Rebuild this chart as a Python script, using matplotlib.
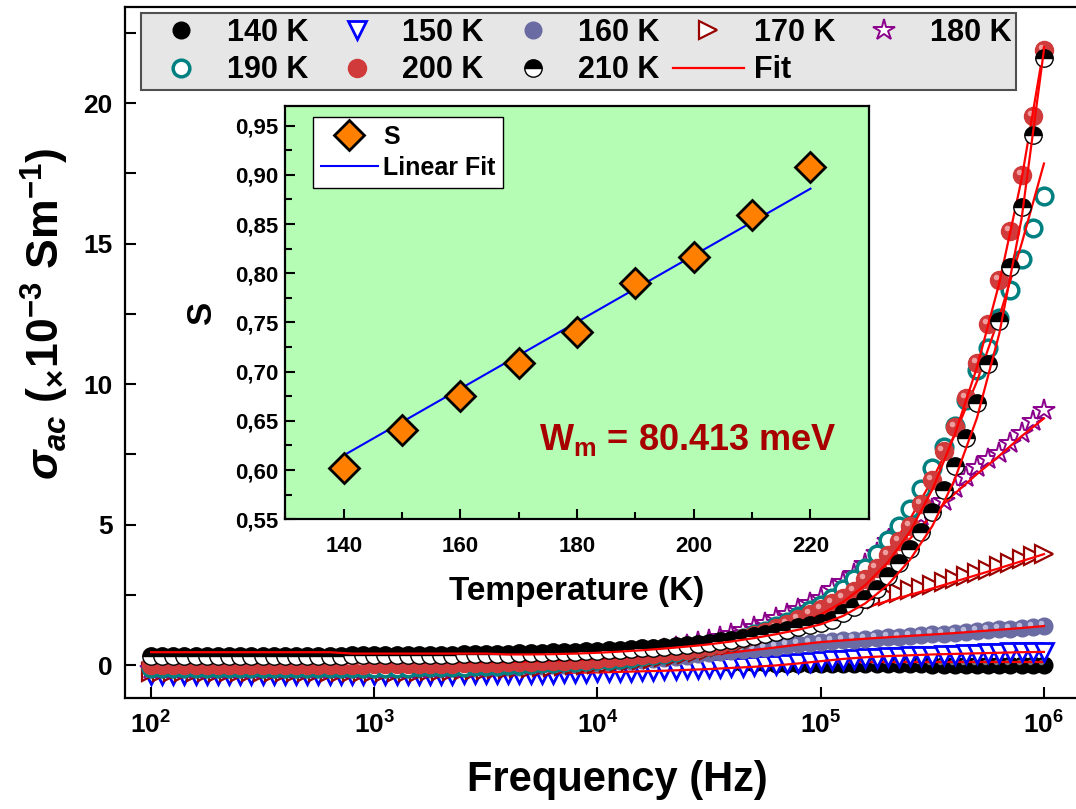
import matplotlib
matplotlib.use("Agg")
import matplotlib.pyplot as plt
import matplotlib.transforms as mtransforms
from matplotlib.ticker import MultipleLocator, NullLocator, LogLocator, FuncFormatter
import numpy as np

plt.rcParams['font.family'] = ['Liberation Sans', 'DejaVu Sans']
plt.rcParams['mathtext.fontset'] = 'custom'
plt.rcParams['mathtext.rm'] = 'Liberation Sans:bold'
plt.rcParams['mathtext.bf'] = 'Liberation Sans:bold'
plt.rcParams['mathtext.it'] = 'Liberation Sans:italic:bold'

# measurement grid, log10(f / Hz)
log_freq = [2.00, 2.05, 2.10, 2.15, 2.20, 2.25, 2.30, 2.35, 2.40, 2.45,
            2.50, 2.55, 2.60, 2.65, 2.70, 2.75, 2.80, 2.85, 2.90, 2.95,
            3.00, 3.05, 3.10, 3.15, 3.20, 3.25, 3.30, 3.35, 3.40, 3.45,
            3.50, 3.55, 3.60, 3.65, 3.70, 3.75, 3.80, 3.85, 3.90, 3.95,
            4.00, 4.05, 4.10, 4.15, 4.20, 4.25, 4.30, 4.35, 4.40, 4.45,
            4.50, 4.55, 4.60, 4.65, 4.70, 4.75, 4.80, 4.85, 4.90, 4.95,
            5.00, 5.05, 5.10, 5.15, 5.20, 5.25, 5.30, 5.35, 5.40, 5.45,
            5.50, 5.55, 5.60, 5.65, 5.70, 5.75, 5.80, 5.85, 5.90, 5.95,
            6.00]
# fit curves are sampled every 0.1 decade
log_freq_fit = [2.0, 2.1, 2.2, 2.3, 2.4, 2.5, 2.6, 2.7, 2.8, 2.9,
                3.0, 3.1, 3.2, 3.3, 3.4, 3.5, 3.6, 3.7, 3.8, 3.9,
                4.0, 4.1, 4.2, 4.3, 4.4, 4.5, 4.6, 4.7, 4.8, 4.9,
                5.0, 5.1, 5.2, 5.3, 5.4, 5.5, 5.6, 5.7, 5.8, 5.9, 6.0]

# sigma_ac (x1e-3 S/m)
s140 = [0.10, 0.10, 0.10, 0.10, 0.10, 0.10, 0.10, 0.10, 0.10, 0.10,
        0.10, 0.10, 0.10, 0.10, 0.10, 0.10, 0.10, 0.10, 0.10, 0.10,
        0.10, 0.10, 0.10, 0.10, 0.10, 0.10, 0.10, 0.10, 0.10, 0.10,
        0.10, 0.10, 0.10, 0.10, 0.10, 0.10, 0.10, 0.10, 0.10, 0.10,
        0.10, 0.10, 0.10, 0.09, 0.09, 0.09, 0.09, 0.08, 0.08, 0.08,
        0.07, 0.07, 0.07, 0.06, 0.06, 0.06, 0.05, 0.05, 0.05, 0.05,
        0.04, 0.04, 0.04, 0.04, 0.03, 0.03, 0.03, 0.03, 0.03, 0.03,
        0.02, 0.02, 0.02, 0.02, 0.02, 0.02, 0.02, 0.02, 0.02, 0.02,
        0.02]
s150 = [-0.35, -0.35, -0.35, -0.35, -0.35, -0.35, -0.35, -0.35, -0.35, -0.35,
        -0.35, -0.35, -0.35, -0.35, -0.35, -0.35, -0.35, -0.35, -0.35, -0.35,
        -0.35, -0.35, -0.35, -0.35, -0.34, -0.34, -0.34, -0.34, -0.33, -0.33,
        -0.33, -0.32, -0.32, -0.31, -0.31, -0.30, -0.30, -0.29, -0.28, -0.27,
        -0.26, -0.25, -0.24, -0.23, -0.22, -0.20, -0.19, -0.17, -0.15, -0.13,
        -0.11, -0.09, -0.07, -0.05, -0.03, -0.01, 0.02, 0.05, 0.08, 0.11,
        0.14, 0.17, 0.20, 0.22, 0.24, 0.26, 0.28, 0.30, 0.31, 0.33,
        0.34, 0.36, 0.37, 0.39, 0.40, 0.42, 0.43, 0.45, 0.46, 0.47,
        0.48]
s160 = [-0.15, -0.15, -0.15, -0.15, -0.15, -0.15, -0.15, -0.15, -0.15, -0.15,
        -0.15, -0.15, -0.15, -0.15, -0.15, -0.15, -0.15, -0.15, -0.15, -0.15,
        -0.15, -0.15, -0.15, -0.14, -0.14, -0.13, -0.13, -0.12, -0.11, -0.10,
        -0.09, -0.08, -0.07, -0.06, -0.04, -0.02, 0.00, 0.02, 0.04, 0.06,
        0.08, 0.10, 0.13, 0.16, 0.19, 0.22, 0.26, 0.30, 0.34, 0.38,
        0.42, 0.46, 0.50, 0.54, 0.58, 0.62, 0.66, 0.70, 0.74, 0.78,
        0.82, 0.85, 0.88, 0.91, 0.93, 0.96, 0.99, 1.01, 1.04, 1.06,
        1.09, 1.12, 1.15, 1.18, 1.21, 1.24, 1.27, 1.30, 1.33, 1.36,
        1.39]
s170 = [-0.25, -0.25, -0.25, -0.25, -0.25, -0.25, -0.25, -0.25, -0.25, -0.25,
        -0.25, -0.25, -0.25, -0.25, -0.25, -0.25, -0.25, -0.25, -0.25, -0.25,
        -0.25, -0.25, -0.24, -0.24, -0.23, -0.22, -0.21, -0.20, -0.19, -0.18,
        -0.17, -0.15, -0.13, -0.11, -0.09, -0.07, -0.05, -0.03, -0.01, 0.01,
        0.04, 0.07, 0.10, 0.14, 0.18, 0.23, 0.28, 0.34, 0.40, 0.47,
        0.55, 0.63, 0.72, 0.82, 0.93, 1.04, 1.16, 1.29, 1.43, 1.57,
        1.72, 1.87, 2.00, 2.12, 2.24, 2.35, 2.46, 2.56, 2.66, 2.76,
        2.86, 2.96, 3.06, 3.17, 3.28, 3.40, 3.52, 3.64, 3.76, 3.87,
        3.97]
s180 = [-0.15, -0.15, -0.15, -0.15, -0.15, -0.15, -0.15, -0.15, -0.15, -0.15,
        -0.15, -0.15, -0.15, -0.15, -0.15, -0.15, -0.15, -0.15, -0.15, -0.15,
        -0.15, -0.15, -0.14, -0.14, -0.13, -0.12, -0.11, -0.10, -0.09, -0.08,
        -0.06, -0.04, -0.02, 0.00, 0.03, 0.06, 0.09, 0.12, 0.16, 0.20,
        0.24, 0.28, 0.33, 0.38, 0.44, 0.50, 0.57, 0.64, 0.72, 0.81,
        0.91, 1.01, 1.12, 1.24, 1.37, 1.51, 1.66, 1.82, 2.00, 2.20,
        2.40, 2.70, 2.95, 3.25, 3.60, 4.00, 4.40, 4.75, 5.05, 5.30,
        5.55, 5.85, 6.30, 6.70, 7.05, 7.32, 7.56, 7.90, 8.25, 8.70,
        9.08]
s190 = [-0.10, -0.10, -0.10, -0.10, -0.10, -0.10, -0.10, -0.10, -0.10, -0.10,
        -0.10, -0.10, -0.10, -0.10, -0.10, -0.10, -0.10, -0.10, -0.10, -0.10,
        -0.10, -0.10, -0.09, -0.09, -0.08, -0.08, -0.07, -0.06, -0.05, -0.04,
        -0.03, -0.02, 0.00, 0.02, 0.04, 0.06, 0.08, 0.10, 0.12, 0.14,
        0.17, 0.20, 0.23, 0.27, 0.31, 0.36, 0.41, 0.47, 0.53, 0.60,
        0.68, 0.77, 0.87, 0.98, 1.10, 1.23, 1.38, 1.55, 1.74, 1.95,
        2.15, 2.40, 2.70, 3.05, 3.45, 3.95, 4.45, 4.95, 5.55, 6.25,
        7.02, 7.75, 8.50, 9.45, 10.50, 11.30, 12.35, 13.35, 14.45, 15.55,
        16.70]
s200 = [0.02, 0.02, 0.02, 0.02, 0.02, 0.02, 0.02, 0.02, 0.02, 0.02,
        0.02, 0.02, 0.02, 0.02, 0.02, 0.02, 0.02, 0.02, 0.02, 0.02,
        0.03, 0.03, 0.03, 0.04, 0.04, 0.04, 0.05, 0.05, 0.06, 0.07,
        0.08, 0.09, 0.10, 0.11, 0.12, 0.13, 0.15, 0.16, 0.18, 0.20,
        0.22, 0.25, 0.28, 0.31, 0.35, 0.39, 0.44, 0.49, 0.55, 0.61,
        0.68, 0.76, 0.85, 0.95, 1.06, 1.18, 1.32, 1.47, 1.64, 1.82,
        2.00, 2.20, 2.40, 2.65, 3.05, 3.45, 3.92, 4.42, 4.95, 5.72,
        6.58, 7.62, 8.48, 9.52, 10.75, 12.13, 13.70, 15.46, 17.45, 19.55,
        21.90]
s210 = [0.33, 0.33, 0.33, 0.33, 0.33, 0.33, 0.33, 0.33, 0.33, 0.33,
        0.34, 0.34, 0.34, 0.34, 0.34, 0.34, 0.34, 0.34, 0.35, 0.35,
        0.35, 0.35, 0.35, 0.36, 0.36, 0.36, 0.37, 0.37, 0.38, 0.38,
        0.39, 0.40, 0.41, 0.42, 0.43, 0.44, 0.45, 0.46, 0.48, 0.49,
        0.51, 0.53, 0.55, 0.57, 0.60, 0.62, 0.65, 0.68, 0.72, 0.76,
        0.80, 0.85, 0.90, 0.96, 1.03, 1.10, 1.18, 1.26, 1.35, 1.44,
        1.50, 1.59, 1.84, 2.06, 2.34, 2.72, 3.17, 3.63, 4.15, 4.72,
        5.44, 6.24, 7.10, 8.10, 9.33, 10.71, 12.25, 14.15, 16.32, 18.85,
        21.62]

fit140 = [0.12, 0.12, 0.12, 0.12, 0.12, 0.12, 0.12, 0.12, 0.12, 0.12,
          0.12, 0.12, 0.12, 0.12, 0.12, 0.12, 0.12, 0.12, 0.12, 0.12,
          0.12, 0.12, 0.12, 0.12, 0.12, 0.12, 0.12, 0.12, 0.12, 0.12,
          0.12, 0.12, 0.12, 0.12, 0.12, 0.12, 0.12, 0.12, 0.12, 0.12, 0.12]
fit150 = [-0.30, -0.30, -0.30, -0.30, -0.30, -0.30, -0.30, -0.30, -0.30, -0.30,
          -0.30, -0.30, -0.30, -0.30, -0.30, -0.30, -0.30, -0.29, -0.28, -0.27,
          -0.26, -0.24, -0.22, -0.20, -0.17, -0.14, -0.10, -0.06, -0.01, 0.06,
          0.14, 0.22, 0.28, 0.32, 0.35, 0.38, 0.40, 0.42, 0.44, 0.46, 0.47]
fit160 = [-0.10, -0.10, -0.10, -0.10, -0.10, -0.10, -0.10, -0.10, -0.10, -0.10,
          -0.10, -0.10, -0.10, -0.10, -0.10, -0.10, -0.09, -0.07, -0.05, -0.02,
          0.02, 0.07, 0.13, 0.20, 0.28, 0.36, 0.45, 0.54, 0.63, 0.73,
          0.82, 0.88, 0.94, 0.99, 1.04, 1.09, 1.14, 1.20, 1.26, 1.32, 1.39]
fit170 = [-0.20, -0.20, -0.20, -0.20, -0.20, -0.20, -0.20, -0.20, -0.20, -0.20,
          -0.20, -0.20, -0.20, -0.20, -0.20, -0.20, -0.18, -0.15, -0.11, -0.06,
          0.00, 0.07, 0.15, 0.25, 0.37, 0.50, 0.66, 0.84, 1.05, 1.30,
          1.58, 1.83, 2.05, 2.28, 2.50, 2.73, 2.97, 3.21, 3.45, 3.70, 3.95]
fit180 = [-0.10, -0.10, -0.10, -0.10, -0.10, -0.10, -0.10, -0.10, -0.10, -0.10,
          -0.10, -0.10, -0.10, -0.10, -0.10, -0.10, -0.08, -0.05, -0.01, 0.04,
          0.10, 0.17, 0.26, 0.37, 0.50, 0.66, 0.85, 1.08, 1.35, 1.67,
          2.05, 2.55, 3.15, 3.80, 4.50, 5.35, 6.10, 6.80, 7.45, 8.15, 8.78]
fit190 = [-0.05, -0.05, -0.05, -0.05, -0.05, -0.05, -0.05, -0.05, -0.05, -0.05,
          -0.05, -0.05, -0.05, -0.05, -0.05, -0.05, -0.03, 0.00, 0.04, 0.09,
          0.15, 0.22, 0.30, 0.40, 0.52, 0.66, 0.83, 1.03, 1.27, 1.56,
          1.92, 2.45, 3.15, 4.05, 5.20, 6.60, 8.20, 10.10, 12.40, 15.00, 17.85]
fit200 = [0.10, 0.10, 0.10, 0.10, 0.10, 0.10, 0.10, 0.10, 0.10, 0.10,
          0.10, 0.10, 0.10, 0.10, 0.10, 0.10, 0.11, 0.13, 0.15, 0.18,
          0.22, 0.27, 0.33, 0.41, 0.50, 0.62, 0.77, 0.95, 1.17, 1.45,
          1.80, 2.25, 2.85, 3.65, 4.75, 6.25, 8.20, 10.60, 13.60, 17.30, 22.00]
fit210 = [0.46, 0.46, 0.46, 0.46, 0.46, 0.46, 0.46, 0.46, 0.46, 0.41,
          0.41, 0.41, 0.41, 0.41, 0.41, 0.41, 0.38, 0.38, 0.39, 0.41,
          0.44, 0.48, 0.53, 0.59, 0.66, 0.74, 0.84, 0.96, 1.10, 1.26,
          1.45, 1.75, 2.20, 2.85, 3.75, 4.95, 6.60, 8.80, 11.80, 15.90, 21.90]

# inset: exponent S vs temperature
temps = [140, 150, 160, 170, 180, 190, 200, 210, 220]
s_exp = [0.602, 0.641, 0.675, 0.709, 0.740, 0.790, 0.817, 0.859, 0.908]
lin_T = [140, 220]
lin_S = [0.615, 0.886]

freq = 10 ** np.array(log_freq)
freq_fit = 10 ** np.array(log_freq_fit)

W, H = 1076, 809
fig = plt.figure(figsize=(W / 100, H / 100), dpi=100)

ax = fig.add_axes([125 / W, 1 - 698 / H, (1.01 * W - 125) / W, 691 / H])
ax.set_xscale('log')

hl_tr = mtransforms.offset_copy(ax.transData, fig=fig, x=-2.2, y=2.2, units='points')

series = [
    # label, data, fit, marker kwargs, highlight colour
    ('140 K', s140, fit140, dict(marker='o', ms=12, mfc='black', mec='black', mew=1), '#8a8a8a'),
    ('150 K', s150, fit150, dict(marker='v', ms=13, mfc='white', mec='#0000ff', mew=2), None),
    ('160 K', s160, fit160, dict(marker='o', ms=12, mfc='#6b6ba3', mec='#6b6ba3', mew=1), '#c8c8e6'),
    ('170 K', s170, fit170, dict(marker='>', ms=13, mfc='white', mec='#990000', mew=1.6), None),
    ('180 K', s180, fit180, dict(marker='*', ms=16, mfc='white', mec='#8b008b', mew=1.4), None),
    ('190 K', s190, fit190, dict(marker='o', ms=12, mfc='white', mec='#008080', mew=2.5), None),
    ('200 K', s200, fit200, dict(marker='o', ms=13, mfc='#d03a3a', mec='#d03a3a', mew=1), '#f4b0b0'),
    ('210 K', s210, fit210, dict(marker='o', ms=12.5, fillstyle='top', mfc='black',
                                 mfcalt='white', mec='black', mew=1), None),
]

handles = {}
for label, vals, fvals, mk, hl in series:
    h, = ax.plot(freq, vals, ls='none', label=label, **mk)
    handles[label] = h
    if hl is not None:
        ax.plot(freq, vals, ls='none', marker='o', ms=4, mfc=hl, mec='none',
                alpha=0.85, transform=hl_tr)
    fit_line, = ax.plot(freq_fit, fvals, color='red', lw=1.6)
handles['Fit'] = fit_line

ax.set_xlim(10 ** 1.8835, 10 ** 6.1917)
ax.set_ylim(-1.17, 23.42)
ax.xaxis.set_major_locator(LogLocator(base=10, numticks=10))
ax.xaxis.set_minor_locator(NullLocator())
ax.yaxis.set_major_locator(MultipleLocator(5))
ax.yaxis.set_minor_locator(MultipleLocator(2.5))
ax.tick_params(which='both', direction='in', top=False, right=False,
               length=8, width=1.5)
ax.tick_params(axis='x', labelsize=19, pad=10)
ax.tick_params(axis='y', labelsize=19, pad=9)
for t in ax.get_xticklabels() + ax.get_yticklabels():
    t.set_fontweight('bold')
for sp in ax.spines.values():
    sp.set_linewidth(1.6)

# main legend, laid out row by row
order = ['140 K', '190 K', '150 K', '200 K', '160 K', '210 K', '170 K', 'Fit', '180 K']
leg = ax.legend([handles[k] for k in order], order, ncol=5, loc='upper left',
                bbox_to_anchor=(141 / W, 1 - 13 / H), bbox_transform=fig.transFigure,
                borderaxespad=0, prop={'weight': 'bold', 'size': 22},
                handlelength=2.3, handletextpad=0.35, columnspacing=0.44,
                borderpad=0.15, labelspacing=0.25, numpoints=1,
                fancybox=False, framealpha=1)
leg.get_frame().set_facecolor('#e6e6e6')
leg.get_frame().set_edgecolor('#505050')
leg.get_frame().set_linewidth(1.5)

fig.text(617 / W, 1 - 780 / H, 'Frequency (Hz)', fontsize=30, fontweight='bold',
         ha='center', va='center')
fig.text(45 / W, 1 - 314 / H, r'$\sigma_{ac}$ ($_{\times}$10$^{-3}$ Sm$^{-1}$)',
         fontsize=32, fontweight='bold', rotation=90, ha='center', va='center')

# inset
ax2 = fig.add_axes([285.4 / W, 1 - 519.3 / H, 583.4 / W, 413.3 / H])
ax2.set_facecolor('#b5fdb5')
ax2.plot(lin_T, lin_S, color='#0000ff', lw=1.5, label='Linear Fit', zorder=2)
ax2.plot(temps, s_exp, ls='none', marker='D', ms=15, mfc='#ff8000', mec='black',
         mew=2, label='S', zorder=3)
ax2.set_xlim(130, 230)
ax2.set_ylim(0.55, 0.97)
ax2.xaxis.set_major_locator(MultipleLocator(20))
ax2.xaxis.set_minor_locator(MultipleLocator(10))
ax2.yaxis.set_major_locator(MultipleLocator(0.05))
ax2.yaxis.set_minor_locator(MultipleLocator(0.025))
ax2.yaxis.set_major_formatter(FuncFormatter(lambda v, p: f'{v:.2f}'.replace('.', ',')))
ax2.tick_params(which='both', direction='in', top=False, right=False, width=1.5)
ax2.tick_params(which='major', length=7)
ax2.tick_params(which='minor', length=5)
ax2.tick_params(axis='x', labelsize=16, pad=12)
ax2.tick_params(axis='y', labelsize=16, pad=5)
for t in ax2.get_xticklabels() + ax2.get_yticklabels():
    t.set_fontweight('bold')
for sp in ax2.spines.values():
    sp.set_linewidth(1.6)
ax2.set_xlabel('Temperature (K)', fontsize=24, fontweight='bold', labelpad=14)
ax2.set_ylabel('S', fontsize=25, fontweight='bold', labelpad=12)

h_lin, h_s = ax2.get_legend_handles_labels()[0]
leg2 = ax2.legend([h_s, h_lin], ['S', 'Linear Fit'], loc='upper left',
                  bbox_to_anchor=(313 / W, 1 - 117 / H), bbox_transform=fig.transFigure,
                  borderaxespad=0, prop={'weight': 'bold', 'size': 18},
                  handlelength=2.3, handletextpad=0.2, borderpad=0.3,
                  labelspacing=0.3, numpoints=1, fancybox=False, framealpha=1)
leg2.get_frame().set_edgecolor('black')
leg2.get_frame().set_linewidth(1.0)

fig.text(539 / W, 1 - 450 / H, r'W$_{\mathbf{m}}$ = 80.413 meV', fontsize=26,
         fontweight='bold', color='#a80000', va='baseline', ha='left')

fig.savefig('out.png', dpi=100)
